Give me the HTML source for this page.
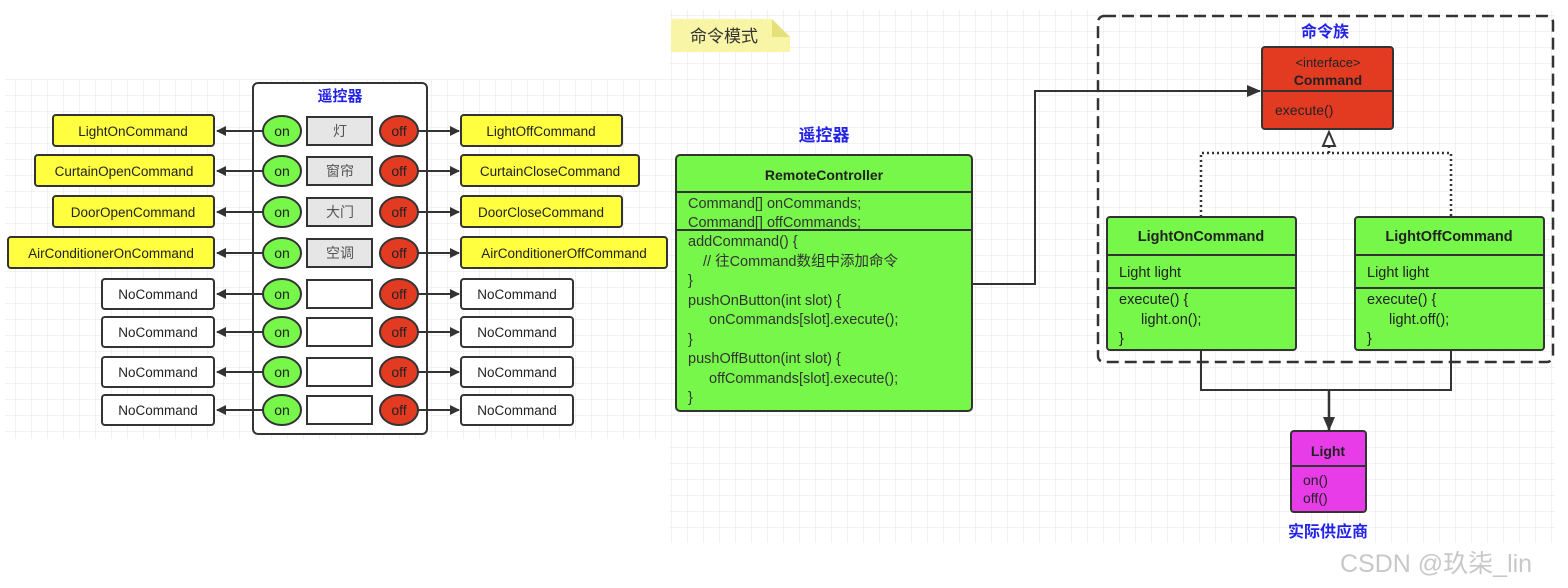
<!DOCTYPE html>
<html><head><meta charset="utf-8"><style>
html,body{margin:0;padding:0;background:#fff;width:1568px;height:588px;overflow:hidden}
svg text{font-family:"Liberation Sans","Noto Sans CJK SC",sans-serif}
</style></head><body>
<svg width="1568" height="588" viewBox="0 0 1568 588" xmlns="http://www.w3.org/2000/svg">
<defs>
<pattern id="g" width="16" height="16" patternUnits="userSpaceOnUse">
<path d="M16 0V16M0 16H16" stroke="#e4e4e4" stroke-width="1" fill="none"/>
</pattern>
<marker id="a" markerWidth="10" markerHeight="10" refX="9" refY="5" orient="auto" markerUnits="userSpaceOnUse"><path d="M0,0L10,5L0,10z" fill="#333"/></marker>
<marker id="a2" markerWidth="14" markerHeight="12" refX="13" refY="6" orient="auto" markerUnits="userSpaceOnUse"><path d="M0,0L14,6L0,12z" fill="#333"/></marker>
</defs>
<rect x="5" y="79" width="665" height="360" fill="url(#g)"/>
<rect x="670" y="10" width="885" height="533" fill="url(#g)"/>

<rect x="253" y="83" width="174" height="351" rx="5" fill="#fff" stroke="#333" stroke-width="2"/>
<text x="340" y="101" font-size="15" font-weight="bold" fill="#2323e8" text-anchor="middle">遥控器</text>
<g stroke="#333" stroke-width="2" fill="none">
<path d="M263 131H217" marker-end="url(#a)"/><path d="M418 131H459" marker-end="url(#a)"/>
<path d="M263 171H217" marker-end="url(#a)"/><path d="M418 171H459" marker-end="url(#a)"/>
<path d="M263 212H217" marker-end="url(#a)"/><path d="M418 212H459" marker-end="url(#a)"/>
<path d="M263 253H217" marker-end="url(#a)"/><path d="M418 253H459" marker-end="url(#a)"/>
<path d="M263 294H217" marker-end="url(#a)"/><path d="M418 294H459" marker-end="url(#a)"/>
<path d="M263 332H217" marker-end="url(#a)"/><path d="M418 332H459" marker-end="url(#a)"/>
<path d="M263 372H217" marker-end="url(#a)"/><path d="M418 372H459" marker-end="url(#a)"/>
<path d="M263 410H217" marker-end="url(#a)"/><path d="M418 410H459" marker-end="url(#a)"/>
</g>
<g stroke="#333" stroke-width="2">
<rect x="53" y="115" width="161" height="31" rx="3" fill="#ffff40"/>
<rect x="35" y="155" width="179" height="31" rx="3" fill="#ffff40"/>
<rect x="53" y="196" width="161" height="31" rx="3" fill="#ffff40"/>
<rect x="8" y="237" width="206" height="31" rx="3" fill="#ffff40"/>
<rect x="102" y="279" width="112" height="30" rx="3" fill="#fff"/>
<rect x="102" y="317" width="112" height="30" rx="3" fill="#fff"/>
<rect x="102" y="357" width="112" height="30" rx="3" fill="#fff"/>
<rect x="102" y="395" width="112" height="30" rx="3" fill="#fff"/>
<rect x="461" y="115" width="161" height="31" rx="3" fill="#ffff40"/>
<rect x="461" y="155" width="178" height="31" rx="3" fill="#ffff40"/>
<rect x="461" y="196" width="161" height="31" rx="3" fill="#ffff40"/>
<rect x="461" y="237" width="206" height="31" rx="3" fill="#ffff40"/>
<rect x="461" y="279" width="112" height="30" rx="3" fill="#fff"/>
<rect x="461" y="317" width="112" height="30" rx="3" fill="#fff"/>
<rect x="461" y="357" width="112" height="30" rx="3" fill="#fff"/>
<rect x="461" y="395" width="112" height="30" rx="3" fill="#fff"/>
<g fill="#77f74a">
<ellipse cx="282" cy="131" rx="19" ry="15"/><ellipse cx="282" cy="171" rx="19" ry="15"/>
<ellipse cx="282" cy="212" rx="19" ry="15"/><ellipse cx="282" cy="253" rx="19" ry="15"/>
<ellipse cx="282" cy="294" rx="19" ry="15"/><ellipse cx="282" cy="332" rx="19" ry="15"/>
<ellipse cx="282" cy="372" rx="19" ry="15"/><ellipse cx="282" cy="410" rx="19" ry="15"/>
</g>
<g fill="#e33b22">
<ellipse cx="399" cy="131" rx="19" ry="15"/><ellipse cx="399" cy="171" rx="19" ry="15"/>
<ellipse cx="399" cy="212" rx="19" ry="15"/><ellipse cx="399" cy="253" rx="19" ry="15"/>
<ellipse cx="399" cy="294" rx="19" ry="15"/><ellipse cx="399" cy="332" rx="19" ry="15"/>
<ellipse cx="399" cy="372" rx="19" ry="15"/><ellipse cx="399" cy="410" rx="19" ry="15"/>
</g>
<g fill="#e6e6e6">
<rect x="307" y="117" width="65" height="28"/><rect x="307" y="157" width="65" height="28"/>
<rect x="307" y="198" width="65" height="28"/><rect x="307" y="239" width="65" height="28"/>
</g>
<g fill="#fff">
<rect x="307" y="280" width="65" height="28"/><rect x="307" y="318" width="65" height="28"/>
<rect x="307" y="358" width="65" height="28"/><rect x="307" y="396" width="65" height="28"/>
</g>
</g>
<g font-size="13.5" fill="#222" text-anchor="middle">
<text x="133" y="136">LightOnCommand</text><text x="124" y="176">CurtainOpenCommand</text>
<text x="133" y="217">DoorOpenCommand</text><text x="111" y="258">AirConditionerOnCommand</text>
<text x="158" y="299">NoCommand</text><text x="158" y="337">NoCommand</text>
<text x="158" y="377">NoCommand</text><text x="158" y="415">NoCommand</text>
<text x="541" y="136">LightOffCommand</text><text x="550" y="176">CurtainCloseCommand</text>
<text x="541" y="217">DoorCloseCommand</text><text x="564" y="258">AirConditionerOffCommand</text>
<text x="517" y="299">NoCommand</text><text x="517" y="337">NoCommand</text>
<text x="517" y="377">NoCommand</text><text x="517" y="415">NoCommand</text>
<g font-size="14">
<text x="282" y="136">on</text><text x="282" y="176">on</text><text x="282" y="217">on</text><text x="282" y="258">on</text>
<text x="282" y="299">on</text><text x="282" y="337">on</text><text x="282" y="377">on</text><text x="282" y="415">on</text>
<text x="399" y="136">off</text><text x="399" y="176">off</text><text x="399" y="217">off</text><text x="399" y="258">off</text>
<text x="399" y="299">off</text><text x="399" y="337">off</text><text x="399" y="377">off</text><text x="399" y="415">off</text>
</g>
<g fill="#555" font-size="14">
<text x="340" y="136">灯</text><text x="340" y="176">窗帘</text><text x="340" y="217">大门</text><text x="340" y="258">空调</text>
</g>
</g>

<path d="M671 19H772L790 37V52H671Z" fill="#f8f5a6"/>
<path d="M772 19L790 37H772Z" fill="#e6e07a"/>
<text x="690" y="42" font-size="17" fill="#333">命令模式</text>

<text x="824" y="141" font-size="17" font-weight="bold" fill="#2323e8" text-anchor="middle">遥控器</text>
<rect x="676" y="155" width="296" height="256" rx="4" fill="#77f74a" stroke="#333" stroke-width="2"/>
<path d="M676 192H972M676 230H972" stroke="#333" stroke-width="2"/>
<text x="824" y="180" font-size="14" font-weight="bold" fill="#222" text-anchor="middle">RemoteController</text>
<g font-size="14.5" fill="#333">
<text x="688" y="208">Command[] onCommands;</text>
<text x="688" y="227">Command[] offCommands;</text>
<text x="688" y="246">addCommand() {</text>
<text x="703" y="266">// 往Command数组中添加命令</text>
<text x="688" y="285">}</text>
<text x="688" y="305">pushOnButton(int slot) {</text>
<text x="709" y="324">onCommands[slot].execute();</text>
<text x="688" y="344">}</text>
<text x="688" y="363">pushOffButton(int slot) {</text>
<text x="709" y="383">offCommands[slot].execute();</text>
<text x="688" y="402">}</text>
</g>
<path d="M972 284H1035V91H1260" stroke="#333" stroke-width="2" fill="none" marker-end="url(#a2)"/>

<rect x="1098" y="16" width="455" height="346" rx="6" fill="none" stroke="#333" stroke-width="2.5" stroke-dasharray="12,6"/>
<text x="1325" y="37" font-size="16" font-weight="bold" fill="#2323e8" text-anchor="middle">命令族</text>

<rect x="1262" y="47" width="131" height="82" rx="3" fill="#e33b22" stroke="#333" stroke-width="2"/>
<path d="M1262 91H1393" stroke="#333" stroke-width="2"/>
<text x="1328" y="67" font-size="13" fill="#222" text-anchor="middle">&lt;interface&gt;</text>
<text x="1328" y="85" font-size="14" font-weight="bold" fill="#222" text-anchor="middle">Command</text>
<text x="1275" y="115" font-size="14" fill="#222">execute()</text>

<path d="M1201 217V153H1451V217M1329 153V146" stroke="#333" stroke-width="2.5" fill="none" stroke-dasharray="2,3"/>
<path d="M1329 132L1323 146H1335Z" fill="#fff" stroke="#333" stroke-width="2"/>

<rect x="1107" y="217" width="189" height="133" rx="3" fill="#77f74a" stroke="#333" stroke-width="2"/>
<path d="M1107 255H1296M1107 288H1296" stroke="#333" stroke-width="2"/>
<rect x="1355" y="217" width="189" height="133" rx="3" fill="#77f74a" stroke="#333" stroke-width="2"/>
<path d="M1355 255H1544M1355 288H1544" stroke="#333" stroke-width="2"/>
<g font-size="14.5" fill="#222">
<text x="1201" y="241" font-weight="bold" text-anchor="middle">LightOnCommand</text>
<text x="1119" y="277">Light light</text>
<text x="1119" y="304">execute() {</text>
<text x="1141" y="324">light.on();</text>
<text x="1119" y="343">}</text>
<text x="1449" y="241" font-weight="bold" text-anchor="middle">LightOffCommand</text>
<text x="1367" y="277">Light light</text>
<text x="1367" y="304">execute() {</text>
<text x="1389" y="324">light.off();</text>
<text x="1367" y="343">}</text>
</g>
<path d="M1201 350V390H1451V350" stroke="#333" stroke-width="2" fill="none"/>
<path d="M1329 390V430" stroke="#333" stroke-width="2.5" fill="none" marker-end="url(#a2)"/>

<rect x="1291" y="431" width="75" height="81" rx="3" fill="#e83ce8" stroke="#333" stroke-width="2"/>
<path d="M1291 466H1366" stroke="#333" stroke-width="2"/>
<text x="1328" y="456" font-size="14" font-weight="bold" fill="#222" text-anchor="middle">Light</text>
<text x="1303" y="485" font-size="14" fill="#222">on()</text>
<text x="1303" y="503" font-size="14" fill="#222">off()</text>
<text x="1328" y="537" font-size="16" font-weight="bold" fill="#2323e8" text-anchor="middle">实际供应商</text>

<text x="1340" y="572" font-size="25" fill="#c8c8c8">CSDN @玖柒_lin</text>
</svg>
</body></html>
